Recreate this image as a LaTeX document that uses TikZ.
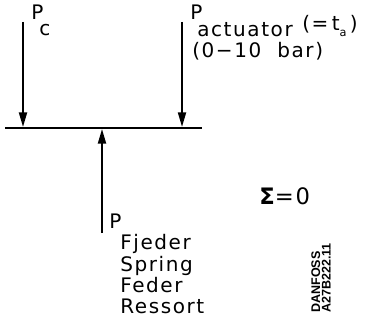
\documentclass[tikz,border=0pt]{standalone}
\usepackage{fontspec}
\setmainfont{DejaVu Sans}
\newfontfamily\plotfont{DejaVu Sans}[LetterSpace=8]
\newfontfamily\stampfont{Liberation Sans}
\usepackage{tikz}
\usetikzlibrary{arrows.meta}

\begin{document}
\begin{tikzpicture}[
  x=0.75pt, y=-0.75pt,
  every node/.style={font=\plotfont\fontsize{15}{17}\selectfont, inner sep=0pt, anchor=base west},
  force/.style={
    -{Triangle[length=11pt, width=6pt]}, line width=1.5pt
  },
  beam/.style={line width=1.5pt},
  stamp/.style={
    font=\stampfont\bfseries\fontsize{9.4}{8}\selectfont,
    align=left, rotate=90, anchor=south west
  },
]
\useasboundingbox (0,0) rectangle (366,324);

% Beam
\coordinate (beamL) at (5,128);
\coordinate (beamR) at (202,128);
\draw[beam] (beamL) -- (beamR);

% Forces
\coordinate (pcTail) at (23,22);
\coordinate (pcHead) at (23,127);
\coordinate (actTail) at (182,22);
\coordinate (actHead) at (182,127);
\coordinate (sprTail) at (102,233);
\coordinate (sprHead) at (102,129);
\draw[force] (pcTail) -- (pcHead);
\draw[force] (actTail) -- (actHead);
\draw[force] (sprTail) -- (sprHead);

% Labels
\node (pcP) at (31,20) {P};
\node (pcSub) at (39,36) {c};
\node (actP) at (190,20) {P};
\node (actSub) at (197,37) {actuator};
\node (taNote) at (302,31) {(=\,t\raisebox{-4pt}{\fontsize{8.5}{9}\selectfont a}\,)};
\node (range) at (192,58) {(0−10\ \ bar)};
\node (sprP) at (109,228) {P};
\node (sprFjeder) at (120,249) {Fjeder};
\node (sprSpring) at (120,271) {Spring};
\node (sprFeder) at (120,292) {Feder};
\node (sprRessort) at (120,313) {Ressort};

% Balance
\node[font=\plotfont\fontsize{17}{19}\selectfont] (balance) at (259,204) {{\bfseries Σ}=0};

% Drawing number
\node[stamp] (stampNo) at (331,313) {DANFOSS\\A27B222.11};

\end{tikzpicture}
\end{document}
